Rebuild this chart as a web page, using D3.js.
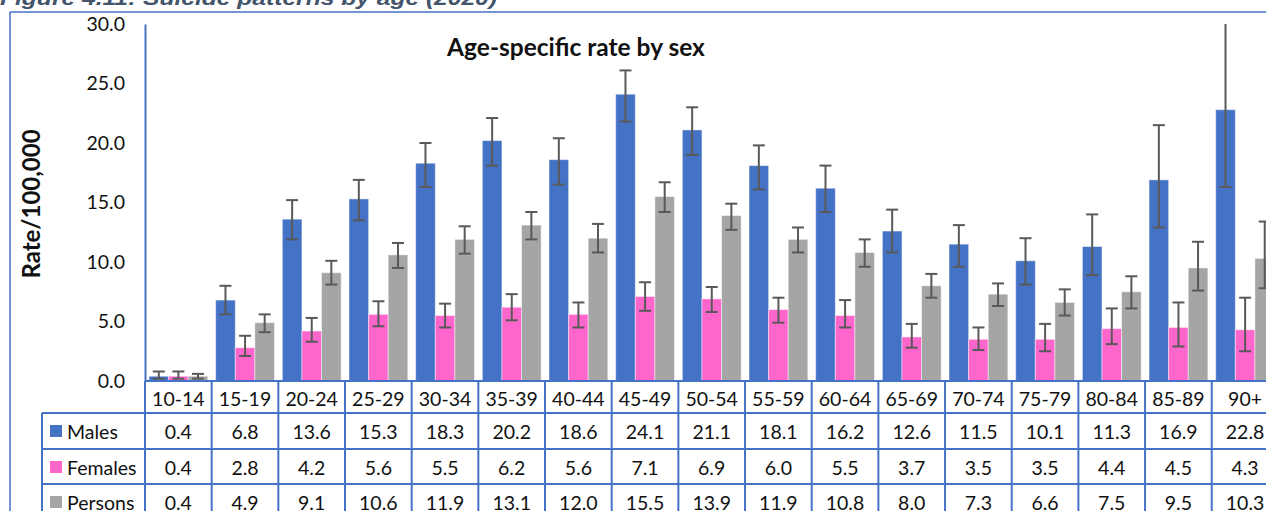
<!DOCTYPE html>
<html>
<head>
<meta charset="utf-8">
<script src="https://cdn.jsdelivr.net/npm/d3@7"></script>
<style>
  html, body { margin: 0; padding: 0; background: #fff; }
  svg { display: block; }
  text { font-family: Lato, "Open Sans", sans-serif; fill: #111; }
</style>
</head>
<body>
<svg id="chart" width="1266" height="511"></svg>
<script>
// Age groups
const categories = ["10-14","15-19","20-24","25-29","30-34","35-39","40-44","45-49","50-54","55-59","60-64","65-69","70-74","75-79","80-84","85-89","90+"];

// Age-specific suicide rates per 100,000
const males   = [0.4, 6.8, 13.6, 15.3, 18.3, 20.2, 18.6, 24.1, 21.1, 18.1, 16.2, 12.6, 11.5, 10.1, 11.3, 16.9, 22.8];
const females = [0.4, 2.8, 4.2, 5.6, 5.5, 6.2, 5.6, 7.1, 6.9, 6.0, 5.5, 3.7, 3.5, 3.5, 4.4, 4.5, 4.3];
const persons = [0.4, 4.9, 9.1, 10.6, 11.9, 13.1, 12.0, 15.5, 13.9, 11.9, 10.8, 8.0, 7.3, 6.6, 7.5, 9.5, 10.3];

// 95% confidence limits
const malesLow    = [0.2, 5.6, 11.9, 13.5, 16.3, 18.1, 16.5, 21.8, 19.0, 16.1, 14.2, 10.8, 9.6, 8.1, 8.9, 12.9, 16.3];
const malesHigh   = [0.8, 8.0, 15.2, 16.9, 20.0, 22.1, 20.4, 26.1, 23.0, 19.8, 18.1, 14.4, 13.1, 12.0, 14.0, 21.5, 31.2];
const femalesLow  = [0.2, 2.1, 3.3, 4.6, 4.5, 5.1, 4.5, 5.9, 5.8, 4.9, 4.5, 2.8, 2.6, 2.5, 3.1, 2.9, 2.5];
const femalesHigh = [0.8, 3.8, 5.3, 6.7, 6.5, 7.3, 6.6, 8.3, 7.9, 7.0, 6.8, 4.8, 4.5, 4.8, 6.1, 6.6, 7.0];
const personsLow  = [0.2, 4.1, 8.1, 9.5, 10.7, 11.9, 10.8, 14.2, 12.7, 10.8, 9.6, 7.0, 6.3, 5.5, 6.1, 7.6, 7.8];
const personsHigh = [0.6, 5.6, 10.1, 11.6, 13.0, 14.2, 13.2, 16.7, 14.9, 12.9, 11.9, 9.0, 8.2, 7.7, 8.8, 11.7, 13.4];

const seriesNames = ["Males", "Females", "Persons"];
const seriesColors = ["#4472C4", "#FF66CC", "#A5A5A5"];
const yTicks = [0, 5, 10, 15, 20, 25, 30];

const series = [
  { name: "Males",   values: males,   low: malesLow,   high: malesHigh },
  { name: "Females", values: females, low: femalesLow, high: femalesHigh },
  { name: "Persons", values: persons, low: personsLow, high: personsHigh }
];

const svg = d3.select("#chart");
const blue = "#4472C4";
const labelSize = "19.5px";

const plotLeft = 145, bandW = 66.67;
const x = d3.scaleBand().domain(categories).range([plotLeft, plotLeft + bandW * categories.length]);
const xs = d3.scaleBand().domain(seriesNames).range([4, 62.8]);
const y = d3.scaleLinear().domain([0, 30]).range([381, 24]);
const color = d3.scaleOrdinal().domain(seriesNames).range(seriesColors);

// Figure caption (sits above the frame)
svg.append("text")
  .attr("x", 0).attr("y", 5)
  .attr("textLength", 497).attr("lengthAdjust", "spacingAndGlyphs")
  .style("font-family", "Arial, 'Liberation Sans', sans-serif")
  .style("font-weight", "bold").style("font-style", "italic")
  .style("font-size", "20px").style("fill", "#44546A")
  .text("Figure 4.11: Suicide patterns by age (2020)");

// Outer frame
svg.append("line").attr("x1", 10).attr("x2", 1266).attr("y1", 12).attr("y2", 12)
  .attr("stroke", blue).attr("stroke-width", 1.5);
svg.append("line").attr("x1", 10).attr("x2", 10).attr("y1", 12).attr("y2", 511)
  .attr("stroke", blue).attr("stroke-width", 1.5);

// Chart title
svg.append("text")
  .attr("x", 576).attr("y", 56).attr("text-anchor", "middle")
  .style("font-weight", "bold").style("font-size", "24.5px")
  .text("Age-specific rate by sex");

// Y axis title
svg.append("text")
  .attr("transform", "translate(40,204) rotate(-90)")
  .attr("text-anchor", "middle")
  .style("font-weight", "bold").style("font-size", "24px")
  .text("Rate/100,000");

// Y axis
const yAxis = svg.append("g")
  .attr("transform", `translate(${plotLeft},0)`)
  .call(d3.axisLeft(y).tickValues(yTicks).tickFormat(d => d.toFixed(1)).tickSize(0).tickSizeOuter(0).tickPadding(20));
yAxis.select(".domain").attr("stroke", blue).attr("stroke-width", 2);
yAxis.selectAll("text").style("font-size", labelSize).style("font-family", "Lato, sans-serif").attr("fill", "#111");

// Clip for marks
svg.append("clipPath").attr("id", "plotClip")
  .append("rect").attr("x", plotLeft).attr("y", y(30)).attr("width", 1266 - plotLeft).attr("height", y(0) - y(30));

const marks = svg.append("g").attr("clip-path", "url(#plotClip)");

// Bars
const groups = marks.selectAll("g.series").data(series).join("g").attr("class", "series");
groups.selectAll("rect")
  .data(s => s.values.map((v, i) => ({ name: s.name, cat: categories[i], v })))
  .join("rect")
  .attr("x", d => x(d.cat) + xs(d.name))
  .attr("width", xs.bandwidth())
  .attr("y", d => y(d.v))
  .attr("height", d => y(0) - y(d.v))
  .attr("fill", d => color(d.name))
  .attr("stroke", "#ffffff").attr("stroke-opacity", 0.45).attr("stroke-width", 1);

// Error bars
const capW = 12;
const errs = [];
series.forEach(s => s.values.forEach((v, i) => errs.push({
  name: s.name, cat: categories[i], lo: s.low[i], hi: s.high[i]
})));
const eb = marks.append("g").attr("stroke", "#595959").attr("stroke-width", 2).attr("fill", "none");
const ebG = eb.selectAll("g").data(errs).join("g")
  .attr("transform", d => `translate(${x(d.cat) + xs(d.name) + xs.bandwidth() / 2},0)`);
ebG.append("line").attr("y1", d => y(d.lo)).attr("y2", d => y(d.hi));
ebG.append("line").attr("x1", -capW / 2).attr("x2", capW / 2).attr("y1", d => y(d.lo)).attr("y2", d => y(d.lo));
ebG.append("line").attr("x1", -capW / 2).attr("x2", capW / 2).attr("y1", d => y(d.hi)).attr("y2", d => y(d.hi));

// X axis line
svg.append("line").attr("x1", plotLeft).attr("x2", 1266).attr("y1", y(0)).attr("y2", y(0))
  .attr("stroke", blue).attr("stroke-width", 2);

// Data table
const rowTop = [381, 413, 449, 484];
const rowH = 35;
const tableBottom = 519;
const labelLeft = 42;
const grid = svg.append("g").attr("stroke", blue).attr("stroke-width", 2);

// vertical lines at category boundaries
const bounds = categories.map(c => x(c)).concat([x.range()[1]]);
grid.selectAll("line.v").data(bounds).join("line").attr("class", "v")
  .attr("x1", d => d).attr("x2", d => d).attr("y1", rowTop[0]).attr("y2", tableBottom);
// left edge of the row-label column
grid.append("line").attr("x1", labelLeft).attr("x2", labelLeft).attr("y1", rowTop[1]).attr("y2", tableBottom);
// horizontal row lines
grid.selectAll("line.h").data(rowTop.slice(1)).join("line").attr("class", "h")
  .attr("x1", labelLeft).attr("x2", 1266).attr("y1", d => d).attr("y2", d => d);

// header labels
svg.append("g").selectAll("text").data(categories).join("text")
  .attr("x", d => x(d) + x.bandwidth() / 2)
  .attr("y", (rowTop[0] + rowTop[1]) / 2 + 1)
  .attr("text-anchor", "middle").attr("dominant-baseline", "central")
  .style("font-size", labelSize)
  .text(d => d);

// value rows
series.forEach((s, r) => {
  const cy = rowTop[r + 1] + rowH / 2 + 0.5;
  const row = svg.append("g");
  row.append("rect").attr("x", 50).attr("y", cy - 6).attr("width", 12).attr("height", 12)
    .attr("fill", color(s.name));
  row.append("text").attr("x", 67).attr("y", cy).attr("dominant-baseline", "central")
    .style("font-size", labelSize).text(s.name);
  row.selectAll("text.val").data(s.values).join("text").attr("class", "val")
    .attr("x", (d, i) => x(categories[i]) + x.bandwidth() / 2)
    .attr("y", cy).attr("text-anchor", "middle").attr("dominant-baseline", "central")
    .style("font-size", labelSize)
    .text(d => d.toFixed(1));
});
</script>
</body>
</html>
